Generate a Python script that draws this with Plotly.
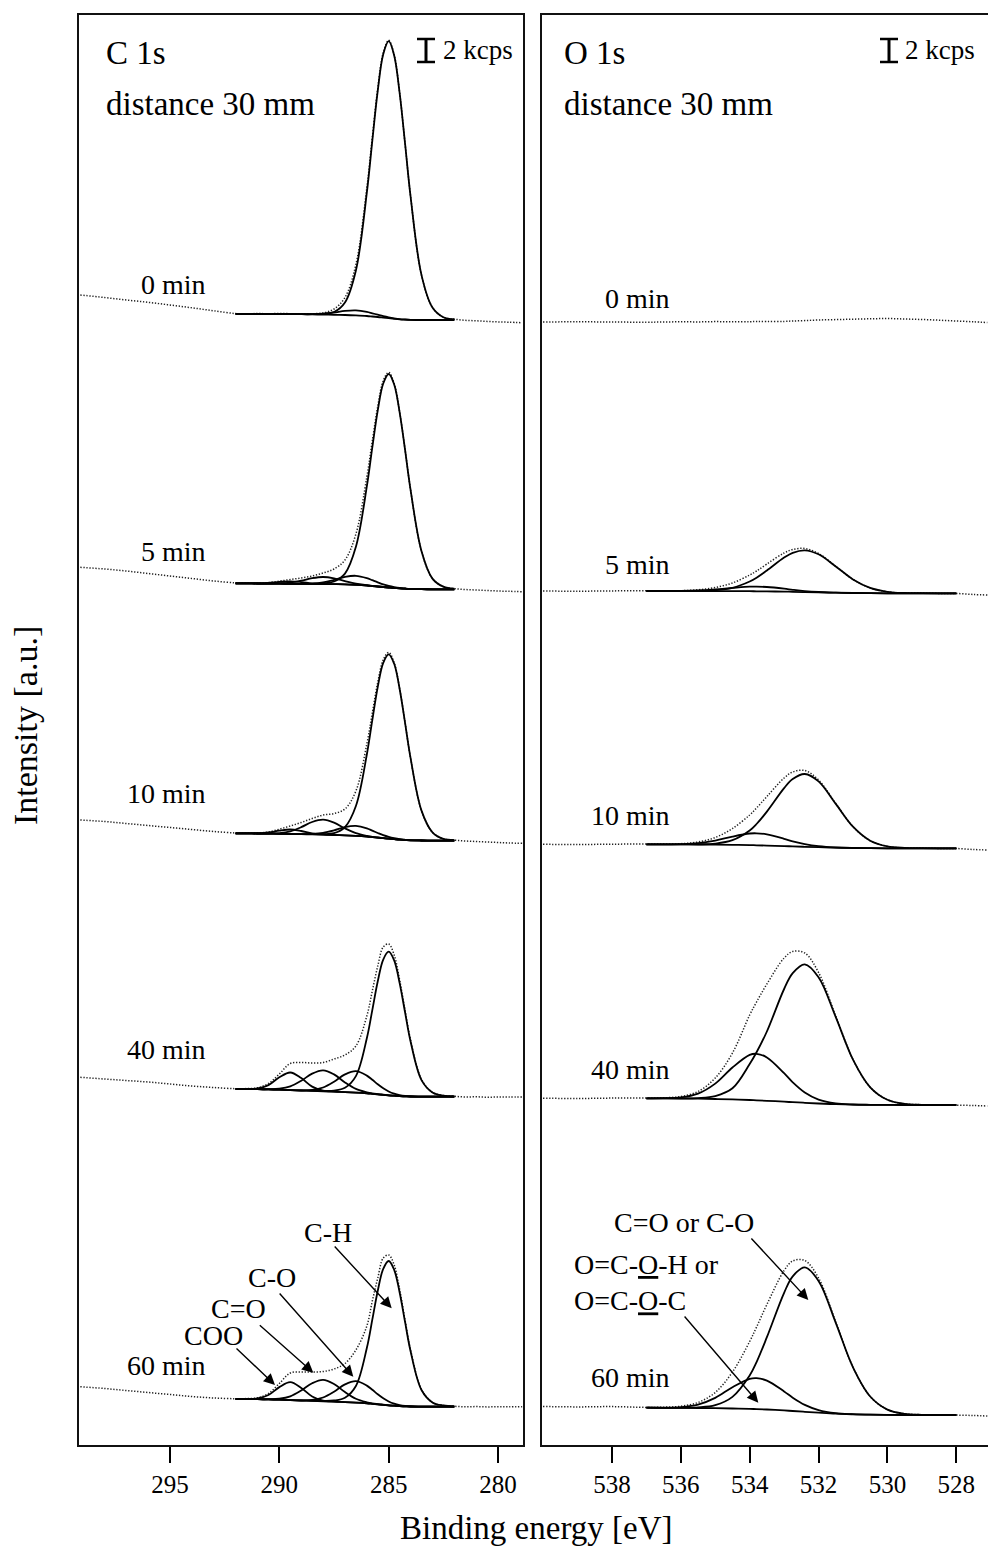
import plotly.graph_objects as go

W, H = 988, 1546
FONT = "Liberation Serif, 'Times New Roman', Times, serif"

# ---------------- C 1s (binding energy grids, eV) ----------------
C1S_E_FIT = [292, 291.5, 291, 290.5, 290, 289.5, 289, 288.5, 288, 287.5, 287, 286.5, 286,
             285.75, 285.5, 285.25, 285, 284.75, 284.5, 284.25, 284, 283.5, 283, 282.5, 282]
C1S_E_RAW = [299.1, 298, 297, 296, 295, 294, 293,
             292, 291.5, 291, 290.5, 290, 289.5, 289, 288.5, 288, 287.5, 287, 286.5, 286,
             285.75, 285.5, 285.25, 285, 284.75, 284.5, 284.25, 284, 283.5, 283, 282.5, 282,
             281.5, 281, 280.5, 280, 279.5, 278.9]
C1S_TICKS = [295, 290, 285, 280]
C1S_LABELS = ["0 min", "5 min", "10 min", "40 min", "60 min"]

# 0 min
c0_raw = [1150, 1147.5, 1145, 1142.7, 1140, 1137.2, 1134.2,
          1131.4, 1131.1, 1131.5, 1131.2, 1131.6, 1131.3, 1131.2, 1131.3, 1132.1, 1136, 1147.5, 1180.5, 1257,
          1307.3, 1356.6, 1392.3, 1404.7, 1390.1, 1352.2, 1301.1, 1248.5, 1169.9, 1137.5, 1127.8, 1125.8,
          1124.7, 1124.2, 1123.6, 1123.1, 1122.8, 1122.3]
c0_bg = [1131, 1131, 1131, 1131, 1131, 1131, 1130.8, 1130.6, 1130.4, 1130.2, 1130, 1129.6, 1129,
         1128.5, 1128, 1127.4, 1126.8, 1126.2, 1125.7, 1125.4, 1125.2, 1125, 1125, 1125, 1125]
c0_ch = [0, 0, 0, 0, 0, 0, 0, 0.3, 0.8, 2.8, 12.5, 44.9, 123.3,
         175.6, 226.3, 263.4, 277, 263.4, 226.3, 175.6, 123.3, 44.9, 12.5, 2.8, 0.8]
c0_co = [0, 0, 0, 0, 0, 0, 0, 0.2, 0.9, 2.3, 4.1, 5, 4.1,
         3.2, 2.3, 1.5, 0.9, 0.5, 0.2, 0.1, 0, 0, 0, 0, 0]

# 5 min
c5_raw = [877.7, 876, 874, 871.5, 869, 866.5, 864,
          862.2, 861.9, 861.8, 862.4, 863.8, 865.5, 867, 869, 872, 876, 885, 911, 968,
          1004, 1038.8, 1064.2, 1072.6, 1061.4, 1033.1, 995.1, 955.2, 893.8, 866.4, 858.3, 856.3,
          855.5, 855, 854.5, 854, 853.7, 853.3]
c5_bg = [861.7, 861.6, 861.5, 861.4, 861.3, 861.2, 861.1, 861.0, 861.0, 860.9, 860.7, 860.2, 859.5,
         859, 858.5, 858, 857.5, 857, 856.6, 856.3, 856, 855.8, 855.7, 855.7, 855.7]
c5_ch = [0, 0, 0, 0, 0, 0, 0, 0.2, 0.6, 2.6, 10.7, 38, 99.1,
         138.6, 176.1, 203.5, 213.5, 203.5, 176.1, 138.6, 99.1, 38, 10.7, 2.6, 0.6]
c5_co = [0, 0, 0, 0, 0, 0, 0.1, 0.4, 1.6, 4.2, 7.4, 9, 7.4,
         5.8, 4.2, 2.7, 1.6, 0.9, 0.4, 0.2, 0.1, 0, 0, 0, 0]
c5_ceo = [0, 0, 0, 0.1, 0.3, 1.2, 3.2, 5.8, 7, 5.8, 3.2, 1.2, 0.3,
          0.1, 0, 0, 0, 0, 0, 0, 0, 0, 0, 0, 0]
c5_coo = [0, 0, 0.1, 0.6, 1.8, 2.5, 1.8, 0.6, 0.1, 0, 0, 0, 0,
          0, 0, 0, 0, 0, 0, 0, 0, 0, 0, 0, 0]

# 10 min
c10_raw = [625, 623.5, 621.5, 619.5, 617.5, 615.5, 613.5,
           612, 611.8, 612, 613, 615.8, 619, 622.5, 626.5, 630, 631.5, 636, 654, 701,
           732, 762.8, 785.2, 792.5, 782.2, 756.5, 722.1, 686.9, 634.4, 612.7, 606.1, 604.9,
           604, 603.5, 603, 602.5, 602, 601.7]
c10_bg = [611.7, 611.6, 611.5, 611.4, 611.2, 611, 610.8, 610.6, 610.3, 610, 609.6, 609.1, 608.4,
          607.9, 607.4, 606.8, 606.3, 605.8, 605.3, 605, 604.7, 604.5, 604.4, 604.3, 604.3]
c10_ch = [0, 0, 0, 0, 0, 0, 0, 0.2, 0.6, 1.8, 8.3, 29.9, 82.1,
          116.9, 150.7, 175.4, 184.4, 175.4, 150.7, 116.9, 82.1, 29.9, 8.3, 1.8, 0.6]
c10_co = [0, 0, 0, 0, 0, 0, 0.1, 0.5, 1.8, 4.6, 8.3, 10, 8.3,
          6.5, 4.6, 3, 1.8, 1, 0.5, 0.2, 0.1, 0, 0, 0, 0]
c10_ceo = [0, 0, 0, 0.1, 0.7, 2.7, 7, 12.4, 15, 12.4, 7, 2.7, 0.7,
           0.3, 0.1, 0, 0, 0, 0, 0, 0, 0, 0, 0, 0]
c10_coo = [0, 0, 0.2, 1.1, 3.2, 4.5, 3.2, 1.1, 0.2, 0, 0, 0, 0,
           0, 0, 0, 0, 0, 0, 0, 0, 0, 0, 0, 0]

# 40 min
c40_raw = [367.7, 366, 364.5, 363, 361, 359, 357.5,
           356.3, 356.4, 357.2, 361.5, 371, 381.5, 382.5, 382, 382.5, 386, 390, 399, 429,
           454, 479, 498, 501, 490, 465, 434.5, 405, 365.5, 352.6, 349.4, 348.7,
           348, 348.2, 347.8, 348, 347.9, 348]
c40_bg = [356, 355.9, 355.8, 355.6, 355.3, 354.9, 354.5, 354.1, 353.7, 353.3, 352.9, 352.4, 351.7,
          351.2, 350.7, 350.2, 349.7, 349.3, 348.9, 348.7, 348.5, 348.4, 348.3, 348.3, 348.3]
c40_ch = [0, 0, 0, 0, 0, 0, 0, 0.1, 0.4, 1.1, 4.3, 16.5, 55,
          83.7, 113, 135.3, 143.6, 135.3, 113, 83.7, 55, 16.5, 4.3, 1.1, 0.4]
c40_co = [0, 0, 0, 0, 0, 0, 0.2, 1, 3.8, 10, 17.7, 21.5, 17.7,
          14, 10, 6.5, 3.8, 2, 1, 0.4, 0.2, 0, 0, 0, 0]
c40_ceo = [0, 0, 0, 0.2, 1, 3.7, 9.7, 17.3, 21, 17.3, 9.7, 3.7, 1,
           0.4, 0.2, 0.1, 0, 0, 0, 0, 0, 0, 0, 0, 0]
c40_coo = [0, 0.1, 0.7, 4.3, 12.4, 17.6, 12.4, 4.3, 0.7, 0.1, 0, 0, 0,
           0, 0, 0, 0, 0, 0, 0, 0, 0, 0, 0, 0]

# 60 min
c60_raw = [58.3, 56.5, 54.5, 52.5, 50.5, 48.5, 47,
           46.3, 46.4, 47.2, 51.5, 61.5, 72, 73, 73, 73.5, 76, 81.5, 95, 119,
           144, 167, 187, 190, 180, 155.5, 124.5, 95, 55.5, 42.6, 39.5, 38.7,
           38.2, 38.4, 38.1, 38.3, 38.2, 38.3]
c60_bg = [46, 45.9, 45.8, 45.6, 45.3, 44.9, 44.5, 44.1, 43.7, 43.3, 42.9, 42.4, 41.7,
          41.2, 40.7, 40.2, 39.7, 39.3, 38.9, 38.7, 38.5, 38.4, 38.3, 38.3, 38.3]
c60_ch = [0, 0, 0, 0, 0, 0, 0, 0.1, 0.4, 1.2, 4.3, 16.6, 55.3,
          84.1, 113.6, 135.9, 144.3, 135.9, 113.6, 84.1, 55.3, 16.6, 4.3, 1.2, 0.4]
c60_co = [0, 0, 0, 0, 0, 0, 0.2, 1, 3.8, 10, 17.7, 21.5, 17.7,
          14, 10, 6.5, 3.8, 2, 1, 0.4, 0.2, 0, 0, 0, 0]
c60_ceo = [0, 0, 0, 0.2, 1, 3.8, 10, 17.7, 21.5, 17.7, 10, 3.8, 1,
           0.4, 0.2, 0.1, 0, 0, 0, 0, 0, 0, 0, 0, 0]
c60_coo = [0, 0.1, 0.7, 4.4, 12.6, 18, 12.6, 4.4, 0.7, 0.1, 0, 0, 0,
           0, 0, 0, 0, 0, 0, 0, 0, 0, 0, 0, 0]

# ---------------- O 1s ----------------
O1S_E_FIT = [537, 536.5, 536, 535.5, 535, 534.5, 534, 533.8, 533.5, 533, 532.75, 532.4,
             532, 531.5, 531, 530.5, 530, 529.5, 529, 528.5, 528]
O1S_E_RAW = [540.0, 539, 538,
             537, 536.5, 536, 535.5, 535, 534.5, 534, 533.8, 533.5, 533, 532.75, 532.4,
             532, 531.5, 531, 530.5, 530, 529.5, 529, 528.5, 528,
             527.5, 527.1]
O1S_TICKS = [538, 536, 534, 532, 530, 528]
O1S_LABELS = ["0 min", "5 min", "10 min", "40 min", "60 min"]

o0_raw = [1123, 1123.2, 1123,
          1122.8, 1123, 1123.2, 1123.1, 1123.4, 1123.2, 1123.3, 1123.5, 1123.4, 1123.6, 1124, 1124.4,
          1125, 1125.4, 1125.8, 1126.2, 1126.5, 1126, 1125.5, 1124.8, 1124,
          1123.2, 1122.5]

o5_raw = [854, 853.8, 854.1,
          854.3, 854.2, 854.3, 855.2, 857.5, 862, 870, 874, 881, 892, 895.5, 896.5,
          891.5, 878.7, 865.6, 857.1, 853.2, 852, 851.9, 851.6, 851.5,
          850.5, 850]
o5_bg = [854, 854, 854, 854, 853.95, 853.9, 853.8, 853.7, 853.6, 853.4, 853.2, 852.9,
         852.6, 852.3, 852, 851.8, 851.7, 851.7, 851.7, 851.7, 851.7]
o5_main = [0, 0, 0, 0.2, 0.9, 3.3, 9.7, 13.6, 20.9, 34, 39, 41.8,
           38.1, 26.3, 13.6, 5.3, 1.5, 0.3, 0.1, 0, 0]
o5_sec = [0, 0, 0.1, 0.5, 1.6, 3.2, 4.6, 4.7, 4.4, 2.9, 2, 1,
          0.4, 0.1, 0, 0, 0, 0, 0, 0, 0]

o10_raw = [600.7, 600.5, 600.8,
           601, 600.9, 601.3, 603, 607.5, 616.5, 630, 637, 648.5, 667, 673, 674.5,
           665, 641.5, 618.3, 604.3, 598.6, 597.1, 596.9, 596.6, 596.5,
           595.5, 595]
o10_bg = [600.7, 600.7, 600.6, 600.5, 600.4, 600.2, 599.9, 599.7, 599.4, 598.9, 598.6, 598.2,
          597.8, 597.3, 597, 596.8, 596.7, 596.7, 596.7, 596.7, 596.7]
o10_main = [0, 0, 0, 0.2, 1, 4.6, 14.6, 21.3, 34, 58, 67.4, 72.8,
            65.8, 43.8, 21.3, 7.5, 1.9, 0.4, 0.1, 0, 0]
o10_sec = [0, 0, 0.3, 1.3, 4, 8.2, 11.6, 12, 11.2, 7.3, 5.1, 2.7,
           1, 0.2, 0, 0, 0, 0, 0, 0, 0]

o40_raw = [346.8, 346.5, 346.9,
           346.9, 347.2, 348.5, 353.5, 367, 392, 430, 443, 461, 487, 493.5, 492,
           472.5, 429, 385.5, 357.7, 345.2, 341.1, 340.3, 340.1, 339.8,
           339.5, 339]
o40_bg = [346.7, 346.6, 346.5, 346.3, 346, 345.6, 345, 344.7, 344.2, 343.3, 342.8, 342.2,
          341.5, 340.8, 340.4, 340.2, 340.1, 340, 340, 340, 340]
o40_main = [0, 0, 0.1, 0.6, 2.9, 11.1, 36, 48, 69.3, 112.7, 129.1, 138.5,
            126.3, 87.1, 45, 17.5, 5.1, 1.1, 0.2, 0.1, 0]
o40_sec = [0, 0.2, 1.1, 5.1, 15.4, 31.9, 45.1, 46.5, 43.4, 28.5, 19.9, 10.3,
           3.9, 0.8, 0.1, 0, 0, 0, 0, 0, 0]

o60_raw = [38.5, 38.1, 38.4,
           37.6, 37.8, 38.8, 42.5, 52.5, 73, 103.5, 118, 140.5, 174.5, 184, 184.5,
           167, 123, 77.8, 48.5, 35.4, 31.3, 30.3, 30.1, 29.9,
           29.5, 29]
o60_bg = [37.3, 37.2, 37.1, 37, 36.8, 36.5, 36.1, 35.9, 35.5, 34.6, 34, 33.2,
          32.3, 31.3, 30.7, 30.3, 30.1, 30, 30, 30, 30]
o60_main = [0, 0, 0.1, 0.6, 3, 11.6, 33.4, 47, 72.3, 117.6, 134.7, 144.5,
            131.8, 90.9, 47, 18.2, 5.3, 1.2, 0.2, 0.1, 0]
o60_sec = [0, 0.1, 0.8, 3.4, 10.3, 21.3, 30.1, 31, 28.9, 19, 13.3, 6.9,
           2.6, 0.5, 0.1, 0, 0, 0, 0, 0, 0]

C1S_SPECTRA = [
    (c0_raw, c0_bg, [c0_ch, c0_co]),
    (c5_raw, c5_bg, [c5_ch, c5_co, c5_ceo, c5_coo]),
    (c10_raw, c10_bg, [c10_ch, c10_co, c10_ceo, c10_coo]),
    (c40_raw, c40_bg, [c40_ch, c40_co, c40_ceo, c40_coo]),
    (c60_raw, c60_bg, [c60_ch, c60_co, c60_ceo, c60_coo]),
]
O1S_SPECTRA = [
    (o0_raw, None, []),
    (o5_raw, o5_bg, [o5_main, o5_sec]),
    (o10_raw, o10_bg, [o10_main, o10_sec]),
    (o40_raw, o40_bg, [o40_main, o40_sec]),
    (o60_raw, o60_bg, [o60_main, o60_sec]),
]

fig = go.Figure()


def add_spectrum(xa, ya, e_raw, e_fit, raw, bg, comps):
    fig.add_trace(go.Scatter(
        x=e_raw, y=raw, mode="lines", xaxis=xa, yaxis=ya, showlegend=False, hoverinfo="skip",
        line=dict(color="#222222", width=1.5, dash="1.3px,1.7px", shape="spline")))
    if bg is None:
        return
    for comp in comps:
        fig.add_trace(go.Scatter(
            x=e_fit, y=[b + c for b, c in zip(bg, comp)], mode="lines", xaxis=xa, yaxis=ya,
            showlegend=False, hoverinfo="skip",
            line=dict(color="black", width=1.8, shape="spline")))
    fig.add_trace(go.Scatter(
        x=e_fit, y=bg, mode="lines", xaxis=xa, yaxis=ya, showlegend=False, hoverinfo="skip",
        line=dict(color="black", width=1.8, shape="spline")))


for raw, bg, comps in C1S_SPECTRA:
    add_spectrum("x", "y", C1S_E_RAW, C1S_E_FIT, raw, bg, comps)
for raw, bg, comps in O1S_SPECTRA:
    add_spectrum("x2", "y2", O1S_E_RAW, O1S_E_FIT, raw, bg, comps)


def px(x, y):
    return x / W, 1 - y / H


ydom = [1 - 1445 / H, 1 - 15 / H]
axis_common = dict(showgrid=False, zeroline=False, showline=True, linecolor="#111111", linewidth=1.8)
fig.update_layout(
    width=W, height=H, margin=dict(l=0, r=0, t=0, b=0),
    paper_bgcolor="white", plot_bgcolor="white", showlegend=False,
    font=dict(family=FONT, color="black"),
    xaxis=dict(domain=[79 / W, 523 / W], range=[299.16, 278.86], tickvals=C1S_TICKS,
               ticks="outside", ticklen=16, tickwidth=1.5, tickcolor="black", mirror=True,
               tickfont=dict(family=FONT, size=25, color="black"), anchor="y", **axis_common),
    yaxis=dict(domain=ydom, range=[0, 1430], showticklabels=False, ticks="", mirror=True,
               anchor="x", **axis_common),
    xaxis2=dict(domain=[542 / W, 1.0], range=[540.03, 527.08], tickvals=O1S_TICKS,
                ticks="outside", ticklen=16, tickwidth=1.5, tickcolor="black", mirror=True,
                tickfont=dict(family=FONT, size=25, color="black"), anchor="y2", **axis_common),
    yaxis2=dict(domain=ydom, range=[0, 1430], showticklabels=False, ticks="", mirror=False,
                anchor="x2", **axis_common),
)

ann = []


def text(x, y, s, size, xanchor="center", angle=0, align="left"):
    xp, yp = px(x, y)
    ann.append(dict(x=xp, y=yp, xref="paper", yref="paper", text=s, showarrow=False,
                    xanchor=xanchor, yanchor="middle", textangle=angle, align=align,
                    font=dict(family=FONT, size=size, color="black")))


def arrow(hx, hy, tx, ty):
    xp, yp = px(hx, hy)
    ann.append(dict(x=xp, y=yp, xref="paper", yref="paper", text="", showarrow=True,
                    ax=tx - hx, ay=ty - hy, arrowhead=2, arrowsize=1.6, arrowwidth=1.4,
                    arrowcolor="black", standoff=0, startstandoff=0))


# panel headers
text(104, 53, "C 1s", 33, "left")
text(104, 104, "distance 30 mm", 33, "left")
text(562, 53, "O 1s", 33, "left")
text(562, 104, "distance 30 mm", 33, "left")
text(441, 50, "2 kcps", 27, "left")
text(903, 50, "2 kcps", 27, "left")

# time labels
for lab, yy in zip(C1S_LABELS, [284, 551, 794, 1049, 1365]):
    text(208, yy, lab, 28, "right")
for lab, yy in zip(O1S_LABELS, [298, 564, 815, 1069, 1377]):
    text(672, yy, lab, 28, "right")

# component labels
text(328, 1232, "C-H", 28)
text(272, 1277, "C-O", 28)
text(238, 1308, "C=O", 28)
text(213, 1335, "COO", 28)
arrow(391.7, 1308.3, 333.3, 1245)
arrow(353.3, 1376.7, 278.3, 1292)
arrow(313.3, 1372.7, 258.3, 1324)
arrow(275, 1385, 235, 1347)

text(684, 1222, "C=O or C-O", 28)
text(572, 1282, "O=C-<u>O</u>-H or<br>O=C-<u>O</u>-C", 28, "left")
arrow(808.3, 1300, 750, 1237)
arrow(758.3, 1402.7, 683.3, 1315)

# axis titles
text(536, 1528, "Binding energy [eV]", 33)
text(25, 726, "Intensity [a.u.]", 34, "center", angle=-90)

fig.update_layout(annotations=ann)

# 2 kcps scale bars
shapes = []
for cx in (426, 889):
    for (x0, y0, x1, y1, w) in [(cx, 39, cx, 62, 3), (cx - 9, 39, cx + 9, 39, 2.5), (cx - 9, 62, cx + 9, 62, 2.5)]:
        a, b = px(x0, y0)
        c, d = px(x1, y1)
        shapes.append(dict(type="line", xref="paper", yref="paper", x0=a, y0=b, x1=c, y1=d,
                           line=dict(color="black", width=w)))
fig.update_layout(shapes=shapes)

fig.write_html("out.html", config={"displayModeBar": False},
               post_script="document.body.style.margin='0px';document.body.style.overflow='hidden';")
